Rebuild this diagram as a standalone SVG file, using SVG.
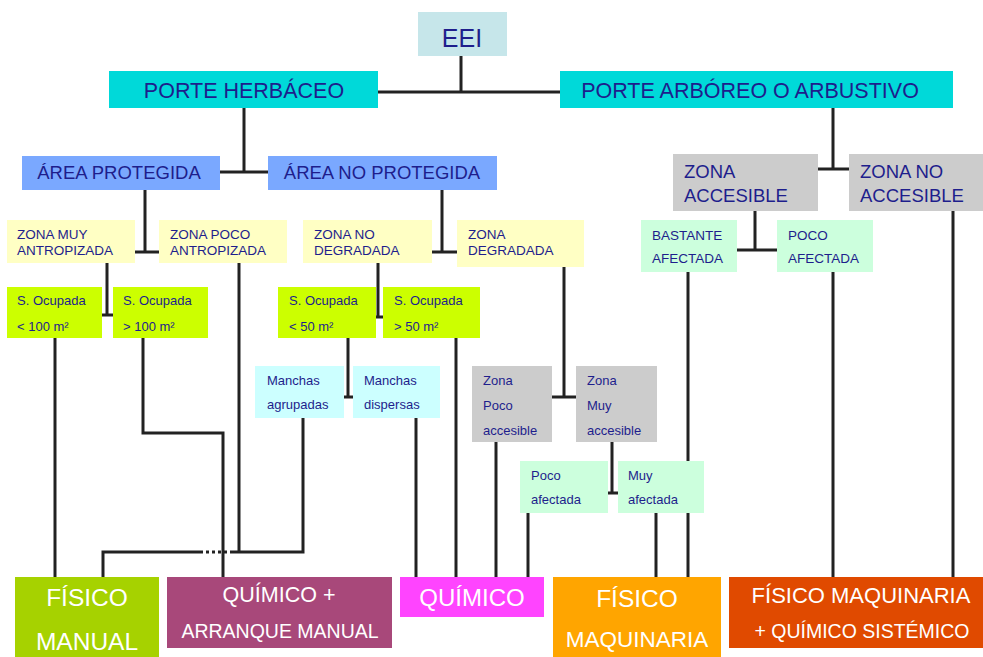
<svg xmlns="http://www.w3.org/2000/svg" width="983" height="657" viewBox="0 0 983 657">
<style>
text{font-family:"Liberation Sans",Arial,sans-serif;fill:#1e1e8c}
.w{fill:#fff}
.c{text-anchor:middle}
.ln{fill:none;stroke:#222;stroke-width:3}
.s13{font-size:13px}
.s14{font-size:13.5px}
.s18{font-size:18.5px}
.s21{font-size:21.5px}
</style>
<rect width="983" height="657" fill="#fff"/>
<g id="connectors" class="ln">
<path d="M461,56V92M378,92H560"/>
<path d="M244,108V172M220,172H268"/>
<path d="M833,108V169M818,169H849"/>
<path d="M145,190V252M135,252H159"/>
<path d="M442,190V252M432,252H457"/>
<path d="M755,211V250M737,250H777"/>
<path d="M107,263V315M102,315H113"/>
<path d="M378,263V317M376,317H383"/>
<path d="M348,338V397M344,397H353"/>
<path d="M564,267V397M552,397H576"/>
<path d="M612,442V493M608,493H618"/>
<path d="M55,338V577"/>
<path d="M143,338V433H223V577"/>
<path d="M239,263V552"/>
<path d="M303,418V552H233M200,552H103V577"/>
<path d="M233,552H200" stroke-dasharray="3,3"/>
<path d="M416,418V577"/>
<path d="M456,338V577"/>
<path d="M496,442V577"/>
<path d="M528,513V577"/>
<path d="M656,513V577"/>
<path d="M688,272V577"/>
<path d="M833,272V577"/>
<path d="M953,211V577"/>
</g>
<g id="eei"><rect x="418" y="12" width="89" height="44" fill="#c6e6ea"/><text x="462" y="47" class="c" font-size="25">EEI</text></g>
<g id="herbaceo"><rect x="109" y="71" width="269" height="37" fill="#00d9d9"/><text x="244" y="98" class="c s21">PORTE HERBÁCEO</text></g>
<g id="arboreo"><rect x="560" y="71" width="393" height="37" fill="#00d9d9"/><text x="750" y="98" class="c s21">PORTE ARBÓREO O ARBUSTIVO</text></g>
<g id="area-protegida"><rect x="22" y="156" width="198" height="34" fill="#7aa8ff"/><text x="119" y="179" class="c s18">ÁREA PROTEGIDA</text></g>
<g id="area-no-protegida"><rect x="268" y="156" width="229" height="34" fill="#7aa8ff"/><text x="382" y="179" class="c s18">ÁREA NO PROTEGIDA</text></g>
<g id="zona-accesible"><rect x="673" y="154" width="145" height="57" fill="#cccccc"/><text x="684" y="178" class="s18">ZONA</text><text x="684" y="202" class="s18">ACCESIBLE</text></g>
<g id="zona-no-accesible"><rect x="849" y="154" width="134" height="57" fill="#cccccc"/><text x="860" y="178" class="s18">ZONA NO</text><text x="860" y="202" class="s18">ACCESIBLE</text></g>
<g id="zona-muy-antropizada"><rect x="7" y="220" width="128" height="43" fill="#ffffc4"/><text x="17" y="239" class="s14">ZONA MUY</text><text x="17" y="255" class="s14">ANTROPIZADA</text></g>
<g id="zona-poco-antropizada"><rect x="159" y="220" width="128" height="43" fill="#ffffc4"/><text x="170" y="239" class="s14">ZONA POCO</text><text x="170" y="255" class="s14">ANTROPIZADA</text></g>
<g id="zona-no-degradada"><rect x="303" y="220" width="129" height="43" fill="#ffffc4"/><text x="314" y="239" class="s14">ZONA NO</text><text x="314" y="255" class="s14">DEGRADADA</text></g>
<g id="zona-degradada"><rect x="457" y="220" width="127" height="47" fill="#ffffc4"/><text x="468" y="239" class="s14">ZONA</text><text x="468" y="255" class="s14">DEGRADADA</text></g>
<g id="bastante-afectada"><rect x="641" y="220" width="96" height="52" fill="#ccffdd"/><text x="652" y="240" class="s14">BASTANTE</text><text x="652" y="263" class="s14">AFECTADA</text></g>
<g id="poco-afectada-z"><rect x="777" y="220" width="96" height="52" fill="#ccffdd"/><text x="788" y="240" class="s14">POCO</text><text x="788" y="263" class="s14">AFECTADA</text></g>
<g id="s-menor-100"><rect x="7" y="287" width="95" height="51" fill="#ccff00"/><text x="17" y="305" class="s13">S. Ocupada</text><text x="17" y="331" class="s13">&lt; 100 m²</text></g>
<g id="s-mayor-100"><rect x="113" y="287" width="95" height="51" fill="#ccff00"/><text x="123" y="305" class="s13">S. Ocupada</text><text x="123" y="331" class="s13">&gt; 100 m²</text></g>
<g id="s-menor-50"><rect x="278" y="287" width="98" height="51" fill="#ccff00"/><text x="289" y="305" class="s13">S. Ocupada</text><text x="289" y="331" class="s13">&lt; 50 m²</text></g>
<g id="s-mayor-50"><rect x="383" y="287" width="97" height="51" fill="#ccff00"/><text x="394" y="305" class="s13">S. Ocupada</text><text x="394" y="331" class="s13">&gt; 50 m²</text></g>
<g id="manchas-agrupadas"><rect x="255" y="366" width="89" height="52" fill="#ccffff"/><text x="267" y="385" class="s13">Manchas</text><text x="267" y="409" class="s13">agrupadas</text></g>
<g id="manchas-dispersas"><rect x="353" y="366" width="87" height="52" fill="#ccffff"/><text x="364" y="385" class="s13">Manchas</text><text x="364" y="409" class="s13">dispersas</text></g>
<g id="zona-poco-accesible"><rect x="472" y="366" width="80" height="76" fill="#cccccc"/><text x="483" y="385" class="s13">Zona</text><text x="483" y="410" class="s13">Poco</text><text x="483" y="435" class="s13">accesible</text></g>
<g id="zona-muy-accesible"><rect x="576" y="366" width="81" height="76" fill="#cccccc"/><text x="587" y="385" class="s13">Zona</text><text x="587" y="410" class="s13">Muy</text><text x="587" y="435" class="s13">accesible</text></g>
<g id="poco-afectada"><rect x="520" y="461" width="88" height="52" fill="#ccffdd"/><text x="531" y="480" class="s13">Poco</text><text x="531" y="504" class="s13">afectada</text></g>
<g id="muy-afectada"><rect x="618" y="461" width="86" height="52" fill="#ccffdd"/><text x="628" y="480" class="s13">Muy</text><text x="628" y="504" class="s13">afectada</text></g>
<g id="fisico-manual"><rect x="15" y="577" width="144" height="80" fill="#a6d200"/><text x="87" y="606" class="c w" font-size="24.5">FÍSICO</text><text x="87" y="650" class="c w" font-size="24.5">MANUAL</text></g>
<g id="quimico-arranque"><rect x="167" y="577" width="225" height="71" fill="#a8487a"/><text x="279" y="602" class="c w" font-size="21.5">QUÍMICO +</text><text x="280" y="638" class="c w" font-size="19.5">ARRANQUE MANUAL</text></g>
<g id="quimico"><rect x="400" y="577" width="144" height="40" fill="#ff44ff"/><text x="472" y="606" class="c w" font-size="24">QUÍMICO</text></g>
<g id="fisico-maquinaria"><rect x="553" y="577" width="168" height="80" fill="#ffa500"/><text x="637" y="607" class="c w" font-size="24.5">FÍSICO</text><text x="637" y="647" class="c w" font-size="22.5">MAQUINARIA</text></g>
<g id="fisico-maquinaria-quimico"><rect x="729" y="577" width="254" height="71" fill="#e04a00"/><text x="861" y="603" class="c w" font-size="22">FÍSICO MAQUINARIA</text><text x="862" y="638" class="c w" font-size="19.5">+ QUÍMICO SISTÉMICO</text></g>
</svg>
